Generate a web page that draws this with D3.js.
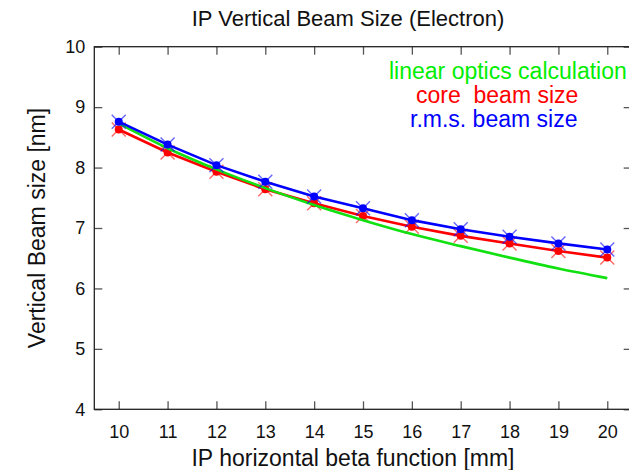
<!DOCTYPE html>
<html><head><meta charset="utf-8">
<script src="https://cdn.jsdelivr.net/npm/d3@7"></script>
<style>body{margin:0;background:#fff;} svg{display:block;font-family:"Liberation Sans",Arial,sans-serif;}</style>
</head><body>
<svg id="c" width="629" height="470"></svg>
<script>
const beta = [10,11,12,13,14,15,16,17,18,19,20];
const linearOptics = [8.73,8.32,7.97,7.66,7.38,7.13,6.90,6.70,6.51,6.33,6.17];
const coreSize = [8.63,8.25,7.93,7.64,7.41,7.20,7.02,6.87,6.745,6.62,6.51];
const rmsSize  = [8.76,8.38,8.04,7.765,7.52,7.325,7.13,6.98,6.855,6.745,6.645];
const xTicks = [10,11,12,13,14,15,16,17,18,19,20];
const yTicks = [4,5,6,7,8,9,10];
const legendLabels = ["linear optics calculation","core  beam size","r.m.s. beam size"];

const svg = d3.select("#c");
const L=94.3, R=631.7, T=46.7, B=409.3;
const x = d3.scaleLinear().domain([9.5,20.5]).range([L,R]);
const y = d3.scaleLinear().domain([4,10]).range([B,T]);

const tickCol="#555";
const gx = svg.append("g").attr("transform",`translate(0,${B})`)
  .call(d3.axisBottom(x).tickValues(xTicks).tickSize(-8).tickPadding(16).tickFormat(d3.format("d")));
gx.selectAll("text").attr("font-size",18).attr("fill","#111").attr("font-family","Liberation Sans, Arial, sans-serif");
const gt = svg.append("g").attr("transform",`translate(0,${T})`)
  .call(d3.axisTop(x).tickValues(xTicks).tickSize(-8).tickFormat(""));
const gy = svg.append("g").attr("transform",`translate(${L},0)`)
  .call(d3.axisLeft(y).tickValues(yTicks).tickSize(-8).tickPadding(9).tickFormat(d3.format("d")));
gy.selectAll("text").attr("font-size",18).attr("fill","#111").attr("font-family","Liberation Sans, Arial, sans-serif");
const gr = svg.append("g").attr("transform",`translate(${R},0)`)
  .call(d3.axisRight(y).tickValues(yTicks).tickSize(-8).tickFormat(""));
[gx,gt,gy,gr].forEach(g=>{g.select(".domain").remove(); g.selectAll(".tick line").attr("stroke",tickCol).attr("stroke-width",1.3);});

svg.append("rect").attr("x",L).attr("y",T).attr("width",R-L).attr("height",B-T)
  .attr("fill","none").attr("stroke","#222").attr("stroke-width",1.3);

const series = [
  {vals:coreSize, col:"#ff0000", mark:true},
  {vals:linearOptics, col:"#11e011", mark:false, curve:true},
  {vals:rmsSize, col:"#0000ff", mark:true}
];
series.forEach(s=>{
  const data = beta.map((b,i)=>[b,s.vals[i]]);
  const line = d3.line().x(d=>x(d[0])).y(d=>y(d[1])).curve(s.curve?d3.curveMonotoneX:d3.curveLinear);
  svg.append("path").datum(data).attr("d",line).attr("fill","none").attr("stroke",s.col).attr("stroke-width",2.6);
  if(s.mark){
    const g = svg.append("g");
    data.forEach(d=>{
      const cx=x(d[0]), cy=y(d[1]), h=7;
      g.append("path").attr("d",`M${cx-h},${cy-h}L${cx+h},${cy+h}M${cx-h},${cy+h}L${cx+h},${cy-h}`)
        .attr("stroke",s.col).attr("stroke-opacity",0.6).attr("stroke-width",1.4);
      g.append("circle").attr("cx",cx).attr("cy",cy).attr("r",4).attr("fill",s.col);
    });
  }
});

const legCols=["#00ee00","#ff0000","#0000ff"];
const legX=[389,416,410], legY=[79,103,127];
legendLabels.forEach((t,i)=>{
  svg.append("text").attr("x",legX[i]).attr("y",legY[i]).attr("font-size",23).attr("fill",legCols[i])
    .attr("xml:space","preserve").style("white-space","pre").text(t);
});

svg.append("text").attr("x",348).attr("y",26).attr("text-anchor","middle").attr("font-size",22).attr("fill","#111")
  .text("IP Vertical Beam Size (Electron)");
svg.append("text").attr("x",353).attr("y",466).attr("text-anchor","middle").attr("font-size",23).attr("fill","#111")
  .text("IP horizontal beta function [mm]");
svg.append("text").attr("transform","translate(45,228) rotate(-90)").attr("text-anchor","middle").attr("font-size",23).attr("fill","#111")
  .text("Vertical Beam size [nm]");
</script>
</body></html>
